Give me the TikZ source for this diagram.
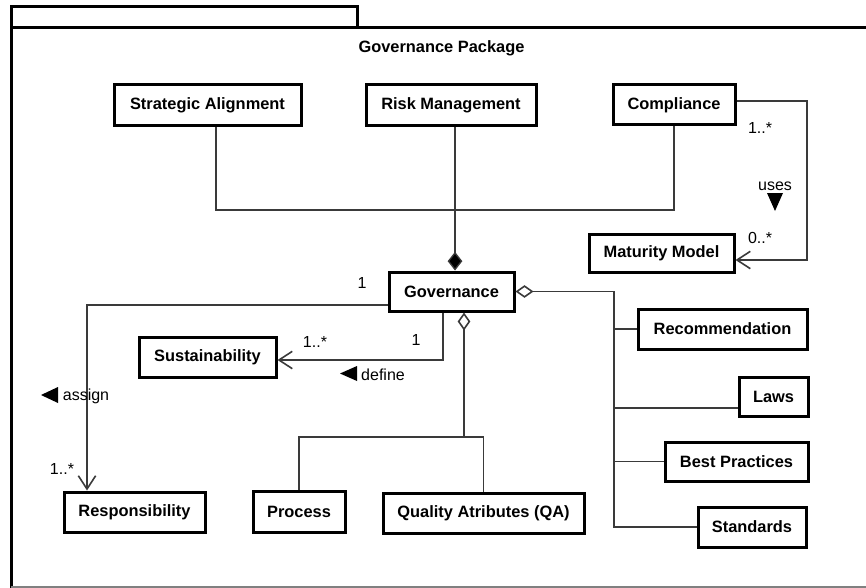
\documentclass[tikz,border=0pt]{standalone}
\usepackage{fontspec}
\setmainfont{Liberation Sans}
\usetikzlibrary{arrows.meta,calc}
\definecolor{conncol}{HTML}{3A3A3A}
\definecolor{framegrey}{HTML}{808080}
\begin{document}
\begin{tikzpicture}[x=0.75pt,y=-0.75pt,
  bx/.style n args={2}{draw=black, line width=2.25pt, minimum width=#1*0.75pt, minimum height=#2*0.75pt, inner sep=0pt, font=\fontsize{12.3}{14}\selectfont\bfseries},
  conn/.style={draw=conncol, line width=1.2pt},
  lbl/.style={inner sep=0pt, font=\fontsize{12}{14}\selectfont},
  openarrow/.style={-{Straight Barb[length=10pt,width=13pt,line width=1.2pt]}},
  aggr/.style={{Diamond[open,length=13.5pt,width=9.5pt,line width=1.2pt]}-},
  compo/.style={-{Diamond[fill=black,length=14pt,width=11pt,line width=1pt]}},
  frameline/.style={draw=black, line width=2.25pt}
]
\useasboundingbox (0,0) rectangle (866,588);

% package frame
\draw[frameline] (11,588) -- (11,7) -- (357,7) -- (357,28);
\draw[frameline] (11,28) -- (866,28);
\draw[draw=framegrey, line width=1.2pt] (11,587) -- (866,587);
\node[inner sep=0pt, font=\fontsize{12.3}{14}\selectfont\bfseries] (title) at (441.5,48) {Governance Package};

% classes
\node[bx={187}{41}] (SA) at (207.5,105.5) {Strategic Alignment};
\node[bx={170}{41}] (RM) at (451,105.5) {Risk Management};
\node[bx={122}{40}] (CO) at (674,105) {Compliance};
\node[bx={145}{38}] (MM) at (661.5,253) {Maturity Model};
\node[bx={125}{39}] (GOV) at (451.5,291.5) {Governance};
\node[bx={137}{40}] (SUS) at (207.5,357) {Sustainability};
\node[bx={141}{40}] (RESP) at (134.5,512) {Responsibility};
\node[bx={92}{41}] (PROC) at (299,511.5) {Process};
\node[bx={201}{40}] (QA) at (483.5,513) {Quality Atributes (QA)};
\node[bx={169}{40}] (REC) at (722.5,329) {Recommendation};
\node[bx={69}{39}] (LAWS) at (773.5,396.5) {Laws};
\node[bx={143}{39}] (BP) at (736.5,461.5) {Best Practices};
\node[bx={108}{40}] (STD) at (752,527) {Standards};

% composition: Strategic Alignment / Risk Management / Compliance -> Governance
\coordinate (hj) at (216,210);
\coordinate (rmx) at (455,210);
\draw[conn] (SA.south -| hj) -- (hj) -| (CO.south);
\draw[conn, compo] (RM.south -| rmx) -- (GOV.north -| rmx);

% Compliance uses Maturity Model
\coordinate (cj1) at (807,101);
\coordinate (cj2) at (807,260);
\draw[conn, openarrow] (cj1 -| CO.east) -- (cj1) -- (cj2) -- (cj2 -| MM.east);
\node[lbl] (m1) at (760,128) {1..*};
\node[lbl] (uses) at (775,186) {uses};
\fill (767,193) -- (783,193) -- (775,211) -- cycle;
\node[lbl] (m2) at (760,238) {0..*};

% aggregation right
\coordinate (vx) at (614,292);
\coordinate (lw) at (614,408);
\draw[conn, aggr] (GOV.east) -- (GOV.east -| vx) |- (STD.west);
\draw[conn] (vx |- REC.west) -- (REC.west);
\draw[conn] (lw) -- (lw -| LAWS.west);
\draw[conn] (vx |- BP.west) -- (BP.west);

% aggregation bottom
\coordinate (bj) at (464,437);
\draw[conn, aggr] (GOV.south -| bj) -- (bj);
\draw[conn] (PROC.north) |- (bj) -| (QA.north);

% define Sustainability
\coordinate (sj) at (443,360);
\draw[conn, openarrow] (GOV.south -| sj) -- (sj) -- (sj -| SUS.east);
\node[lbl] (m3) at (416,340) {1};
\node[lbl] (m4) at (315,342) {1..*};
\fill (340,373.5) -- (357,366) -- (357,381) -- cycle;
\node[lbl] (define) at (383,375) {define};

% assign Responsibility
\coordinate (rj) at (87,305);
\draw[conn, openarrow] (rj -| GOV.west) -- (rj) -- (RESP.north -| rj);
\node[lbl] (m5) at (362,283) {1};
\node[lbl] (m6) at (62,469) {1..*};
\fill (41,395) -- (58,387) -- (58,403) -- cycle;
\node[lbl] (assign) at (86,396) {assign};
\end{tikzpicture}
\end{document}
